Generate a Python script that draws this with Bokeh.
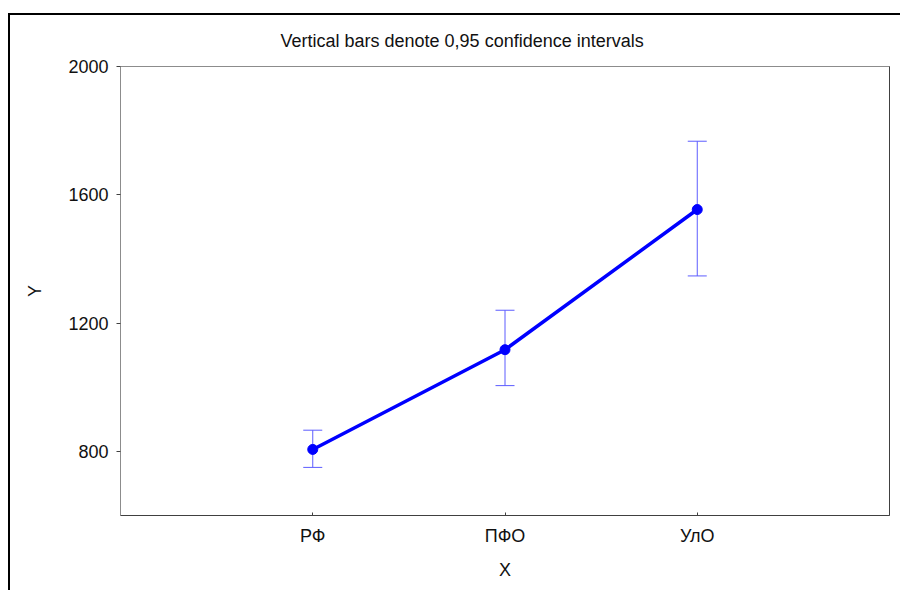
from bokeh.plotting import figure
from bokeh.models import (Range1d, FixedTicker, LinearAxis, Whisker, TeeHead,
                          ColumnDataSource, Title)
from bokeh.embed import file_html
from bokeh.resources import INLINE

# Group means with 0.95 confidence limits
groups = ["РФ", "ПФО", "УлО"]
group_pos = [1, 2, 3]
means = [806, 1117, 1554]
ci_lower = [750, 1005, 1347]
ci_upper = [866, 1240, 1767]
y_ticks = [800, 1200, 1600, 2000]

FONT = "Liberation Sans"
CI_COLOR = "#5c5cff"

src = ColumnDataSource(dict(x=group_pos, y=means, lo=ci_lower, hi=ci_upper))

p = figure(
    width=892, height=577,
    x_range=Range1d(0, 4), y_range=Range1d(600, 2000),
    output_backend="svg", toolbar_location=None,
    min_border_left=110, min_border_top=51,
    min_border_right=13, min_border_bottom=77,
    background_fill_color="white", border_fill_color="white",
    styles={"margin-left": "8px", "margin-top": "13px",
            "border-left": "2px solid black", "border-top": "2px solid black"},
)
p.grid.visible = False
p.outline_line_color = "#8c8c8c"
p.outline_line_width = 1

p.title = Title(text="Vertical bars denote 0,95 confidence intervals",
                align="left", offset=160, standoff=28, vertical_align="top",
                text_font=FONT, text_font_size="18px",
                text_font_style="normal", text_color="#111111")

# x axis: groups
xa = p.xaxis[0]
xa.ticker = FixedTicker(ticks=group_pos)
xa.major_label_overrides = {pos: name for pos, name in zip(group_pos, groups)}
xa.axis_label = "X"
xa.axis_line_color = "#404040"
xa.major_tick_in = 3
xa.major_tick_out = 0
xa.major_tick_line_color = "#404040"
xa.minor_tick_line_color = None
xa.major_label_standoff = 10
xa.axis_label_standoff = 11
xa.major_label_text_font = FONT
xa.major_label_text_font_size = "18px"
xa.major_label_text_color = "#111111"
xa.axis_label_text_font = FONT
xa.axis_label_text_font_size = "18px"
xa.axis_label_text_font_style = "normal"
xa.axis_label_text_color = "#111111"

# y axis
ya = p.yaxis[0]
ya.ticker = FixedTicker(ticks=y_ticks)
ya.axis_label = "Y"
ya.axis_line_color = "#8c8c8c"
ya.major_tick_in = 0
ya.major_tick_out = 4
ya.major_tick_line_color = "#404040"
ya.minor_tick_line_color = None
ya.major_label_standoff = 8
ya.axis_label_standoff = 20
ya.major_label_text_font = FONT
ya.major_label_text_font_size = "18px"
ya.major_label_text_color = "#111111"
ya.axis_label_text_font = FONT
ya.axis_label_text_font_size = "18px"
ya.axis_label_text_font_style = "normal"
ya.axis_label_text_color = "#111111"

# darker right edge of the plot frame
ra = LinearAxis(ticker=FixedTicker(ticks=[]), axis_line_color="#404040",
                major_tick_line_color=None, minor_tick_line_color=None)
p.add_layout(ra, "right")

# confidence intervals
p.add_layout(Whisker(source=src, base="x", lower="lo", upper="hi",
                     line_color=CI_COLOR, line_width=1,
                     lower_head=TeeHead(size=19, line_color=CI_COLOR, line_width=1),
                     upper_head=TeeHead(size=19, line_color=CI_COLOR, line_width=1)))

# means
p.line("x", "y", source=src, line_color="#0000ff", line_width=3.5)
p.scatter("x", "y", source=src, size=10, fill_color="#0000ff", line_color="#0000ff")

open("out.html", "w").write(file_html(p, INLINE))
